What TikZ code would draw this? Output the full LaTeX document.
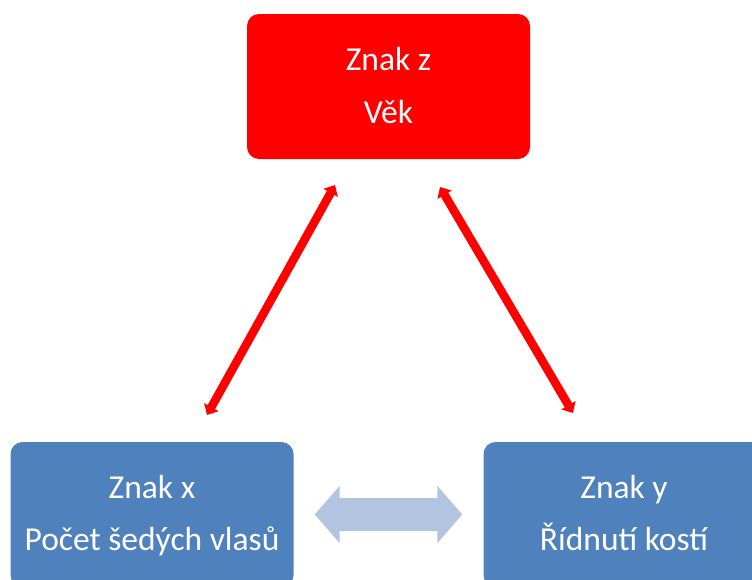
\documentclass[tikz,border=0pt]{standalone}
\usepackage{fontspec}
\setmainfont{Carlito}
\usetikzlibrary{arrows.meta}
\definecolor{boxred}{RGB}{255,0,0}
\definecolor{boxblue}{RGB}{79,129,189}
\definecolor{lightblue}{RGB}{178,196,224}
\tikzset{
  box/.style={rounded corners=12pt, minimum width=283pt, minimum height=145pt, inner sep=0pt, draw=none},
  lbl/.style={anchor=base, text=white, font=\fontsize{33.5}{40}\selectfont, inner sep=0pt},
  redarrow/.style={draw=boxred, line width=8.5pt, {Triangle[width=16pt,length=9pt]}-{Triangle[width=16pt,length=9pt]}},
  bluearrow/.style={draw=lightblue, line width=33pt, {Triangle[width=56pt,length=25pt]}-{Triangle[width=56pt,length=25pt]}, shorten <=21pt, shorten >=21pt}
}
\begin{document}
\begin{tikzpicture}[x=1pt,y=-1pt]
\useasboundingbox (0,0) rectangle (752,579);
\clip (0,0) rectangle (752,579);
\node[box, fill=boxred] (z) at (388.5,86.5) {};
\node[box, fill=boxblue] (x) at (152,514.5) {};
\node[box, fill=boxblue] (y) at (625,514.5) {};
\node[lbl] (z1) at (388.5,70) {Znak z};
\node[lbl] (z2) at (388.5,123) {Věk};
\node[lbl] (x1) at (152,498) {Znak x};
\node[lbl] (x2) at (152,550) {Počet šedých vlasů};
\node[lbl] (y1) at (624,498) {Znak y};
\node[lbl] (y2) at (624,550) {Řídnutí kostí};
\coordinate (zl) at (335,185);
\coordinate (xl) at (207,415);
\coordinate (zr) at (440,187);
\coordinate (yr) at (573,413);
\draw[redarrow] (zl) -- (xl);
\draw[redarrow] (zr) -- (yr);
\draw[bluearrow] (x.east) -- (y.west);
\end{tikzpicture}
\end{document}
